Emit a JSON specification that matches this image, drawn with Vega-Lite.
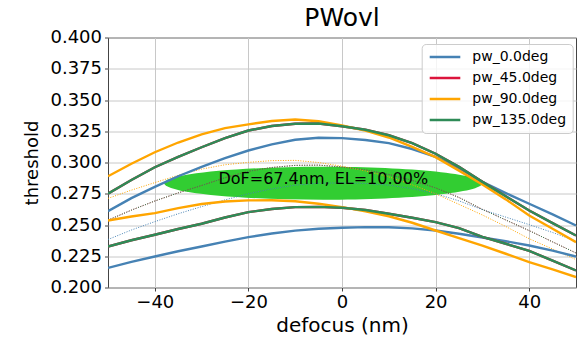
{
  "$schema": "https://vega.github.io/schema/vega-lite/v6.json",
  "width": 468,
  "height": 250,
  "autosize": "none",
  "padding": {"left": 108, "top": 37.5, "right": 3, "bottom": 49.5},
  "title": {"text": "PWovl", "fontSize": 25, "font": "DejaVu Sans", "fontWeight": "normal", "color": "#000", "anchor": "middle", "offset": -2},
  "config": {
    "font": "DejaVu Sans",
    "view": {"stroke": "#444", "strokeWidth": 1},
    "axis": {
      "domain": false,
      "gridColor": "#c8c8c8",
      "gridWidth": 1,
      "tickColor": "#444",
      "tickSize": 3.5,
      "tickWidth": 1,
      "labelColor": "#000",
      "titleColor": "#000",
      "titleFontWeight": "normal",
      "labelFontSize": 18,
      "labelOverlap": false,
      "labelFont": "DejaVu Sans",
      "titleFont": "DejaVu Sans"
    },
    "axisY": {"labelOverlap": false},
    "axisQuantitative": {"labelOverlap": false},
    "legend": {"labelFont": "DejaVu Sans"}
  },
  "resolve": {"legend": {"color": "independent"}},
  "encoding": {
    "x": {"type": "quantitative", "title": "defocus (nm)",
          "scale": {"domain": [-50, 50], "nice": false, "zero": false},
          "axis": {"values": [-40, -20, 0, 20, 40], "format": "d", "labelOverlap": false, "titleFontSize": 20, "labelPadding": 2, "titlePadding": 4}},
    "y": {"type": "quantitative", "title": "threshold",
          "scale": {"domain": [0.2, 0.4], "nice": false, "zero": false},
          "axis": {"values": [0.2, 0.225, 0.25, 0.275, 0.3, 0.325, 0.35, 0.375, 0.4], "format": ".3f", "labelOverlap": false, "titleFontSize": 18, "labelPadding": 3, "titlePadding": 8}}
  },
  "datasets": {
    "curves": [
      {"s":"pw_0.0deg","x":-50,"u":0.2610,"l":0.2157,"m":0.2384},
      {"s":"pw_0.0deg","x":-45,"u":0.2715,"l":0.2205,"m":0.2460},
      {"s":"pw_0.0deg","x":-40,"u":0.2805,"l":0.2248,"m":0.2527},
      {"s":"pw_0.0deg","x":-35,"u":0.2890,"l":0.2290,"m":0.2590},
      {"s":"pw_0.0deg","x":-30,"u":0.2965,"l":0.2328,"m":0.2647},
      {"s":"pw_0.0deg","x":-25,"u":0.3035,"l":0.2367,"m":0.2701},
      {"s":"pw_0.0deg","x":-20,"u":0.3096,"l":0.2403,"m":0.2750},
      {"s":"pw_0.0deg","x":-15,"u":0.3145,"l":0.2432,"m":0.2789},
      {"s":"pw_0.0deg","x":-10,"u":0.3182,"l":0.2455,"m":0.2819},
      {"s":"pw_0.0deg","x":-5,"u":0.3198,"l":0.2470,"m":0.2834},
      {"s":"pw_0.0deg","x":0,"u":0.3195,"l":0.2478,"m":0.2837},
      {"s":"pw_0.0deg","x":5,"u":0.3180,"l":0.2483,"m":0.2832},
      {"s":"pw_0.0deg","x":10,"u":0.3155,"l":0.2482,"m":0.2819},
      {"s":"pw_0.0deg","x":15,"u":0.3108,"l":0.2473,"m":0.2791},
      {"s":"pw_0.0deg","x":20,"u":0.3045,"l":0.2456,"m":0.2751},
      {"s":"pw_0.0deg","x":25,"u":0.2955,"l":0.2430,"m":0.2693},
      {"s":"pw_0.0deg","x":30,"u":0.2845,"l":0.2400,"m":0.2623},
      {"s":"pw_0.0deg","x":35,"u":0.2755,"l":0.2370,"m":0.2563},
      {"s":"pw_0.0deg","x":40,"u":0.2670,"l":0.2336,"m":0.2503},
      {"s":"pw_0.0deg","x":45,"u":0.2585,"l":0.2295,"m":0.2440},
      {"s":"pw_0.0deg","x":50,"u":0.2496,"l":0.2248,"m":0.2372},
      {"s":"pw_45.0deg","x":-50,"u":0.2750,"l":0.2328,"m":0.2539},
      {"s":"pw_45.0deg","x":-45,"u":0.2860,"l":0.2378,"m":0.2619},
      {"s":"pw_45.0deg","x":-40,"u":0.2962,"l":0.2422,"m":0.2692},
      {"s":"pw_45.0deg","x":-35,"u":0.3045,"l":0.2468,"m":0.2757},
      {"s":"pw_45.0deg","x":-30,"u":0.3122,"l":0.2510,"m":0.2816},
      {"s":"pw_45.0deg","x":-25,"u":0.3195,"l":0.2560,"m":0.2878},
      {"s":"pw_45.0deg","x":-20,"u":0.3256,"l":0.2603,"m":0.2930},
      {"s":"pw_45.0deg","x":-15,"u":0.3292,"l":0.2628,"m":0.2960},
      {"s":"pw_45.0deg","x":-10,"u":0.3310,"l":0.2643,"m":0.2977},
      {"s":"pw_45.0deg","x":-5,"u":0.3312,"l":0.2645,"m":0.2979},
      {"s":"pw_45.0deg","x":0,"u":0.3290,"l":0.2638,"m":0.2964},
      {"s":"pw_45.0deg","x":5,"u":0.3262,"l":0.2620,"m":0.2941},
      {"s":"pw_45.0deg","x":10,"u":0.3218,"l":0.2590,"m":0.2904},
      {"s":"pw_45.0deg","x":15,"u":0.3155,"l":0.2558,"m":0.2857},
      {"s":"pw_45.0deg","x":20,"u":0.3070,"l":0.2523,"m":0.2797},
      {"s":"pw_45.0deg","x":25,"u":0.2965,"l":0.2475,"m":0.2720},
      {"s":"pw_45.0deg","x":30,"u":0.2845,"l":0.2405,"m":0.2625},
      {"s":"pw_45.0deg","x":35,"u":0.2730,"l":0.2350,"m":0.2540},
      {"s":"pw_45.0deg","x":40,"u":0.2616,"l":0.2293,"m":0.2455},
      {"s":"pw_45.0deg","x":45,"u":0.2515,"l":0.2215,"m":0.2365},
      {"s":"pw_45.0deg","x":50,"u":0.2416,"l":0.2136,"m":0.2276},
      {"s":"pw_90.0deg","x":-50,"u":0.2890,"l":0.2536,"m":0.2713},
      {"s":"pw_90.0deg","x":-45,"u":0.2990,"l":0.2568,"m":0.2779},
      {"s":"pw_90.0deg","x":-40,"u":0.3082,"l":0.2595,"m":0.2839},
      {"s":"pw_90.0deg","x":-35,"u":0.3160,"l":0.2635,"m":0.2898},
      {"s":"pw_90.0deg","x":-30,"u":0.3225,"l":0.2668,"m":0.2947},
      {"s":"pw_90.0deg","x":-25,"u":0.3275,"l":0.2688,"m":0.2982},
      {"s":"pw_90.0deg","x":-20,"u":0.3305,"l":0.2697,"m":0.3001},
      {"s":"pw_90.0deg","x":-15,"u":0.3332,"l":0.2698,"m":0.3015},
      {"s":"pw_90.0deg","x":-10,"u":0.3344,"l":0.2690,"m":0.3017},
      {"s":"pw_90.0deg","x":-5,"u":0.3330,"l":0.2670,"m":0.3000},
      {"s":"pw_90.0deg","x":0,"u":0.3296,"l":0.2643,"m":0.2970},
      {"s":"pw_90.0deg","x":5,"u":0.3255,"l":0.2610,"m":0.2933},
      {"s":"pw_90.0deg","x":10,"u":0.3200,"l":0.2570,"m":0.2885},
      {"s":"pw_90.0deg","x":15,"u":0.3125,"l":0.2518,"m":0.2822},
      {"s":"pw_90.0deg","x":20,"u":0.3043,"l":0.2456,"m":0.2750},
      {"s":"pw_90.0deg","x":25,"u":0.2935,"l":0.2395,"m":0.2665},
      {"s":"pw_90.0deg","x":30,"u":0.2825,"l":0.2335,"m":0.2580},
      {"s":"pw_90.0deg","x":35,"u":0.2705,"l":0.2270,"m":0.2488},
      {"s":"pw_90.0deg","x":40,"u":0.2576,"l":0.2203,"m":0.2390},
      {"s":"pw_90.0deg","x":45,"u":0.2470,"l":0.2145,"m":0.2308},
      {"s":"pw_90.0deg","x":50,"u":0.2363,"l":0.2083,"m":0.2223},
      {"s":"pw_135.0deg","x":-50,"u":0.2750,"l":0.2328,"m":0.2539},
      {"s":"pw_135.0deg","x":-45,"u":0.2860,"l":0.2378,"m":0.2619},
      {"s":"pw_135.0deg","x":-40,"u":0.2962,"l":0.2422,"m":0.2692},
      {"s":"pw_135.0deg","x":-35,"u":0.3045,"l":0.2468,"m":0.2757},
      {"s":"pw_135.0deg","x":-30,"u":0.3122,"l":0.2510,"m":0.2816},
      {"s":"pw_135.0deg","x":-25,"u":0.3195,"l":0.2560,"m":0.2878},
      {"s":"pw_135.0deg","x":-20,"u":0.3256,"l":0.2603,"m":0.2930},
      {"s":"pw_135.0deg","x":-15,"u":0.3292,"l":0.2628,"m":0.2960},
      {"s":"pw_135.0deg","x":-10,"u":0.3310,"l":0.2643,"m":0.2977},
      {"s":"pw_135.0deg","x":-5,"u":0.3312,"l":0.2645,"m":0.2979},
      {"s":"pw_135.0deg","x":0,"u":0.3290,"l":0.2638,"m":0.2964},
      {"s":"pw_135.0deg","x":5,"u":0.3262,"l":0.2620,"m":0.2941},
      {"s":"pw_135.0deg","x":10,"u":0.3218,"l":0.2590,"m":0.2904},
      {"s":"pw_135.0deg","x":15,"u":0.3155,"l":0.2558,"m":0.2857},
      {"s":"pw_135.0deg","x":20,"u":0.3070,"l":0.2523,"m":0.2797},
      {"s":"pw_135.0deg","x":25,"u":0.2965,"l":0.2475,"m":0.2720},
      {"s":"pw_135.0deg","x":30,"u":0.2845,"l":0.2405,"m":0.2625},
      {"s":"pw_135.0deg","x":35,"u":0.2730,"l":0.2350,"m":0.2540},
      {"s":"pw_135.0deg","x":40,"u":0.2616,"l":0.2293,"m":0.2455},
      {"s":"pw_135.0deg","x":45,"u":0.2515,"l":0.2215,"m":0.2365},
      {"s":"pw_135.0deg","x":50,"u":0.2416,"l":0.2136,"m":0.2276}
    ],
    "window": [
      {"cx": -4.0, "cy": 0.2834, "label": "DoF=67.4nm, EL=10.00%"}
    ]
  },
  "layer": [
    {
      "data": {"name": "window"},
      "mark": {"type": "point", "shape": "M-1,0C-1,-0.0573,-0.5523,-0.1038,0,-0.1038C0.5523,-0.1038,1,-0.0573,1,0C1,0.0573,0.5523,0.1038,0,0.1038C-0.5523,0.1038,-1,0.0573,-1,0Z", "size": 101124, "filled": true, "fill": "#32cd32", "opacity": 1, "strokeWidth": 0},
      "encoding": {
        "x": {"field": "cx"},
        "y": {"field": "cy"}
      }
    },
    {
      "data": {"name": "curves"},
      "mark": {"type": "line", "strokeWidth": 1, "strokeDash": [1, 1.5], "clip": true},
      "encoding": {
        "x": {"field": "x"},
        "y": {"field": "m"},
        "color": {"field": "s", "type": "nominal", "legend": null}
      }
    },
    {
      "data": {"name": "curves"},
      "transform": [{"fold": ["u", "l"], "as": ["branch", "v"]}],
      "mark": {"type": "line", "strokeWidth": 2.4, "clip": true},
      "encoding": {
        "x": {"field": "x"},
        "y": {"field": "v"},
        "color": {"field": "s", "type": "nominal",
                  "scale": {"domain": ["pw_0.0deg", "pw_45.0deg", "pw_90.0deg", "pw_135.0deg"], "range": ["#4682b4", "#dc143c", "#ffa500", "#2e8b57"]},
                  "legend": {"title": null, "orient": "none", "legendX": 313.7, "legendY": 6.5,
                             "symbolType": "M-1,0H5.12", "symbolSize": 100, "symbolStrokeWidth": 2.5,
                             "labelFontSize": 14, "labelColor": "#000", "labelOffset": 30.6, "rowPadding": 7,
                             "padding": 6, "strokeColor": "#cccccc", "fillColor": "rgba(255,255,255,0.8)", "cornerRadius": 4, "labelLimit": 300}},
        "detail": {"field": "branch", "type": "nominal"}
      }
    },
    {
      "data": {"name": "window"},
      "mark": {"type": "text", "fontSize": 16, "font": "DejaVu Sans", "color": "#000", "baseline": "alphabetic", "align": "center", "dy": 1},
      "encoding": {
        "x": {"field": "cx"},
        "y": {"field": "cy"},
        "text": {"field": "label"}
      }
    }
  ]
}
